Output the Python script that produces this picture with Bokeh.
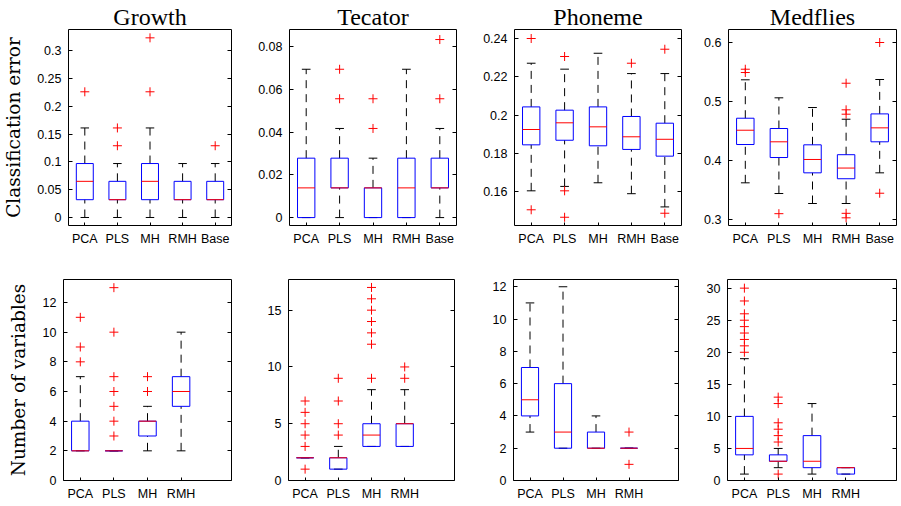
from bokeh.plotting import figure
from bokeh.layouts import column, row
from bokeh.models import FixedTicker, LinearAxis, Range1d, ColumnDataSource
from bokeh.transform import dodge
from bokeh.embed import file_html
from bokeh.resources import INLINE

# ---------------- data ----------------
methods = ["PCA", "PLS", "MH", "RMH", "Base"]
datasets = ["Growth", "Tecator", "Phoneme", "Medflies"]

# Classification error (top row)
growth_err_lo = [0.0, 0.0, 0.0, 0.0, 0.0]
growth_err_q1 = [0.032, 0.032, 0.032, 0.032, 0.032]
growth_err_med = [0.065, 0.032, 0.065, 0.032, 0.032]
growth_err_q3 = [0.097, 0.065, 0.097, 0.065, 0.065]
growth_err_hi = [0.161, 0.097, 0.161, 0.097, 0.097]
growth_err_out = [[0.226], [0.129, 0.161], [0.226, 0.323], [], [0.129]]

tecator_err_lo = [0.0, 0.0, 0.0, 0.0, 0.0]
tecator_err_q1 = [0.0, 0.0139, 0.0, 0.0, 0.0139]
tecator_err_med = [0.0139, 0.0139, 0.0139, 0.0139, 0.0139]
tecator_err_q3 = [0.0278, 0.0278, 0.0139, 0.0278, 0.0278]
tecator_err_hi = [0.0694, 0.0417, 0.0278, 0.0694, 0.0417]
tecator_err_out = [[], [0.0556, 0.0694], [0.0417, 0.0556], [], [0.0556, 0.0833]]

phoneme_err_lo = [0.1605, 0.1628, 0.1647, 0.159, 0.1521]
phoneme_err_q1 = [0.1845, 0.1869, 0.184, 0.1821, 0.1786]
phoneme_err_med = [0.1925, 0.196, 0.1939, 0.1887, 0.1874]
phoneme_err_q3 = [0.2043, 0.2026, 0.2043, 0.1993, 0.1958]
phoneme_err_hi = [0.2271, 0.224, 0.2323, 0.2217, 0.2217]
phoneme_err_out = [[0.1506, 0.240], [0.1467, 0.1605, 0.2306], [], [0.2271], [0.1488, 0.2344]]

medflies_err_lo = [0.3626, 0.3445, 0.3276, 0.3276, 0.3795]
medflies_err_q1 = [0.4274, 0.4054, 0.3795, 0.3695, 0.432]
medflies_err_med = [0.4516, 0.432, 0.4021, 0.3876, 0.4556]
medflies_err_q3 = [0.4719, 0.4545, 0.4269, 0.4102, 0.4792]
medflies_err_hi = [0.5369, 0.5064, 0.49, 0.4702, 0.5374]
medflies_err_out = [[0.5492, 0.5548], [0.3104], [], [0.3034, 0.311, 0.4787, 0.4861, 0.5311], [0.345, 0.6]]

# Number of variables (bottom row)
growth_nv_lo = [2, 2, 2, 2]
growth_nv_q1 = [2, 2, 3, 5]
growth_nv_med = [2, 2, 4, 6]
growth_nv_q3 = [4, 2, 4, 7]
growth_nv_hi = [7, 2, 5, 10]
growth_nv_out = [[8, 9, 11], [3, 4, 5, 6, 7, 10, 13], [6, 7], []]

tecator_nv_lo = [2, 1, 3, 3]
tecator_nv_q1 = [2, 1, 3, 3]
tecator_nv_med = [2, 2, 4, 5]
tecator_nv_q3 = [2, 2, 5, 5]
tecator_nv_hi = [2, 3, 8, 8]
tecator_nv_out = [[1, 3, 4, 5, 6, 7], [4, 5, 7, 9], [9, 12, 13, 14, 15, 16, 17], [9, 10]]

phoneme_nv_lo = [3, 2, 2, 2]
phoneme_nv_q1 = [4, 2, 2, 2]
phoneme_nv_med = [5, 3, 2, 2]
phoneme_nv_q3 = [7, 6, 3, 2]
phoneme_nv_hi = [11, 12, 4, 2]
phoneme_nv_out = [[], [], [], [1, 3]]

medflies_nv_lo = [1, 2, 1, 1]
medflies_nv_q1 = [4, 3, 2, 1]
medflies_nv_med = [5, 3, 3, 2]
medflies_nv_q3 = [10, 4, 7, 2]
medflies_nv_hi = [19, 5, 12, 2]
medflies_nv_out = [[20, 21, 22, 23, 24, 25, 26, 28, 30], [1, 6, 7, 8, 9, 12, 13], [], []]

# axis ticks / labels
growth_err_ticks = [0, 0.05, 0.1, 0.15, 0.2, 0.25, 0.3]
growth_err_labels = ["0", "0.05", "0.1", "0.15", "0.2", "0.25", "0.3"]
tecator_err_ticks = [0, 0.02, 0.04, 0.06, 0.08]
tecator_err_labels = ["0", "0.02", "0.04", "0.06", "0.08"]
phoneme_err_ticks = [0.16, 0.18, 0.2, 0.22, 0.24]
phoneme_err_labels = ["0.16", "0.18", "0.2", "0.22", "0.24"]
medflies_err_ticks = [0.3, 0.4, 0.5, 0.6]
medflies_err_labels = ["0.3", "0.4", "0.5", "0.6"]
growth_nv_ticks = [0, 2, 4, 6, 8, 10, 12]
tecator_nv_ticks = [0, 5, 10, 15]
phoneme_nv_ticks = [0, 2, 4, 6, 8, 10, 12]
medflies_nv_ticks = [0, 5, 10, 15, 20, 25, 30]

# y limits
growth_err_ylim = (-0.0144, 0.338)
tecator_err_ylim = (-0.0037, 0.088)
phoneme_err_ylim = (0.1424, 0.2447)
medflies_err_ylim = (0.2904, 0.622)
growth_nv_ylim = (0, 13.55)
tecator_nv_ylim = (0, 17.7)
phoneme_nv_ylim = (0, 12.45)
medflies_nv_ylim = (0, 31.35)

TICK_FONT = "Liberation Sans"
SERIF = "DejaVu Serif"
TITLE_FONT = "Liberation Serif"
BOX_W = 0.52
CAP_W = 0.26


def style_axis(ax, ticks, labels=None, show=True, standoff=7):
    ax.ticker = FixedTicker(ticks=list(ticks))
    ax.major_tick_in = 4
    ax.major_tick_out = 0
    ax.minor_tick_line_color = None
    ax.axis_line_color = None
    ax.major_tick_line_color = "black"
    ax.major_label_text_font = TICK_FONT
    ax.major_label_text_color = "black"
    ax.major_label_text_font_size = "12.5px"
    if show:
        ax.major_label_overrides = {t: l for t, l in zip(ticks, labels)}
        ax.major_label_standoff = standoff
    else:
        ax.major_label_overrides = {t: "" for t in ticks}
        ax.major_label_standoff = 0


def panel(n, lo, q1, med, q3, hi, out, ylim, yticks, ylabels, fw, fh, bl, br, bt, bb,
          title=None, ylabel=None, ylabel_standoff=3):
    p = figure(frame_width=fw, frame_height=fh,
               x_range=Range1d(0.5, 5.5), y_range=Range1d(*ylim),
               output_backend="svg", toolbar_location=None, tools="",
               min_border_left=bl, min_border_right=br,
               min_border_top=bt, min_border_bottom=bb,
               background_fill_color="white", border_fill_color="white",
               outline_line_color="black", outline_line_width=1)
    p.xgrid.visible = False
    p.ygrid.visible = False

    xs = list(range(1, n + 1))
    src = ColumnDataSource(dict(x=xs, lo=lo, q1=q1, med=med, q3=q3, hi=hi,
                                name=methods[:n]))
    # whiskers
    p.segment(x0="x", y0="q3", x1="x", y1="hi", source=src,
              line_color="black", line_width=1, line_dash="8 6")
    p.segment(x0="x", y0="lo", x1="x", y1="q1", source=src,
              line_color="black", line_width=1, line_dash="8 6")
    # caps
    p.segment(x0=dodge("x", -CAP_W / 2), x1=dodge("x", CAP_W / 2), y0="hi", y1="hi",
              source=src, line_color="black", line_width=1)
    p.segment(x0=dodge("x", -CAP_W / 2), x1=dodge("x", CAP_W / 2), y0="lo", y1="lo",
              source=src, line_color="black", line_width=1)
    # boxes
    p.vbar(x="x", width=BOX_W, bottom="q1", top="q3", source=src,
           fill_color=None, line_color="blue", line_width=1)
    # medians
    p.segment(x0=dodge("x", -BOX_W / 2), x1=dodge("x", BOX_W / 2), y0="med", y1="med",
              source=src, line_color="red", line_width=1)
    # outliers
    ox, oy = [], []
    for i, vals in enumerate(out):
        for v in vals:
            ox.append(xs[i])
            oy.append(v)
    p.scatter(ox, oy, marker="cross", size=9, line_color="red", line_width=1)

    # axes
    style_axis(p.xaxis[0], xs, methods[:n], show=True, standoff=6)
    p.xaxis[0].major_tick_in = 3
    style_axis(p.yaxis[0], yticks, ylabels, show=True, standoff=7)
    right = LinearAxis()
    style_axis(right, yticks, show=False)
    p.add_layout(right, "right")

    if ylabel:
        p.yaxis[0].axis_label = ylabel
        p.yaxis[0].axis_label_text_font = SERIF
        p.yaxis[0].axis_label_text_font_size = "18.5px"
        p.yaxis[0].axis_label_text_font_style = "normal"
        p.yaxis[0].axis_label_text_color = "black"
        p.yaxis[0].axis_label_standoff = ylabel_standoff

    if title:
        # panel title, rendered as the label of a tick-less axis above the frame
        top = LinearAxis(ticker=FixedTicker(ticks=[]), axis_line_color=None,
                         major_tick_line_color=None, minor_tick_line_color=None,
                         major_label_text_font_size="12px", major_label_standoff=0)
        top.axis_label = title
        top.axis_label_text_font = TITLE_FONT
        top.axis_label_text_font_size = "24px"
        top.axis_label_text_font_style = "normal"
        top.axis_label_text_color = "black"
        top.axis_label_standoff = 0
        p.add_layout(top, "above")
    return p


# top row
f1 = panel(5, growth_err_lo, growth_err_q1, growth_err_med, growth_err_q3, growth_err_hi,
           growth_err_out, growth_err_ylim, growth_err_ticks, growth_err_labels,
           163, 196, 66, 8, 27, 28, title=datasets[0], ylabel="Classification error",
           ylabel_standoff=10)
f2 = panel(5, tecator_err_lo, tecator_err_q1, tecator_err_med, tecator_err_q3, tecator_err_hi,
           tecator_err_out, tecator_err_ylim, tecator_err_ticks, tecator_err_labels,
           167, 196, 50, 8, 27, 28, title=datasets[1])
f3 = panel(5, phoneme_err_lo, phoneme_err_q1, phoneme_err_med, phoneme_err_q3, phoneme_err_hi,
           phoneme_err_out, phoneme_err_ylim, phoneme_err_ticks, phoneme_err_labels,
           167, 196, 50, 8, 27, 28, title=datasets[2])
f4 = panel(5, medflies_err_lo, medflies_err_q1, medflies_err_med, medflies_err_q3, medflies_err_hi,
           medflies_err_out, medflies_err_ylim, medflies_err_ticks, medflies_err_labels,
           168, 196, 39, 5, 27, 28, title=datasets[3])

# bottom row
g1 = panel(4, growth_nv_lo, growth_nv_q1, growth_nv_med, growth_nv_q3, growth_nv_hi,
           growth_nv_out, growth_nv_ylim, growth_nv_ticks, [str(t) for t in growth_nv_ticks],
           168, 201, 63, 8, 26, 23, ylabel="Number of variables", ylabel_standoff=11)
g2 = panel(4, tecator_nv_lo, tecator_nv_q1, tecator_nv_med, tecator_nv_q3, tecator_nv_hi,
           tecator_nv_out, tecator_nv_ylim, tecator_nv_ticks, [str(t) for t in tecator_nv_ticks],
           166, 201, 49, 9, 26, 23)
g3 = panel(4, phoneme_nv_lo, phoneme_nv_q1, phoneme_nv_med, phoneme_nv_q3, phoneme_nv_hi,
           phoneme_nv_out, phoneme_nv_ylim, phoneme_nv_ticks, [str(t) for t in phoneme_nv_ticks],
           165, 201, 50, 9, 26, 23)
g4 = panel(4, medflies_nv_lo, medflies_nv_q1, medflies_nv_med, medflies_nv_q3, medflies_nv_hi,
           medflies_nv_out, medflies_nv_ylim, medflies_nv_ticks, [str(t) for t in medflies_nv_ticks],
           169, 201, 40, 4, 26, 23)

layout = column(row(f1, f2, f3, f4), row(g1, g2, g3, g4))

with open("out.html", "w") as fh:
    fh.write(file_html(layout, INLINE))
